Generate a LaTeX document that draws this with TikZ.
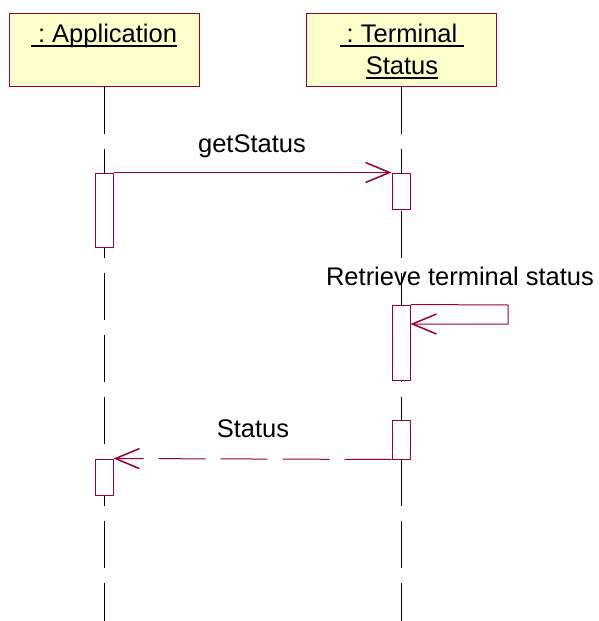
\documentclass[tikz,border=0pt]{standalone}
\usepackage{fontspec}
\setmainfont{Liberation Sans}
\usepackage{tikz}
\usetikzlibrary{arrows.meta, positioning}
\definecolor{umlred}{HTML}{990033}
\definecolor{umlyellow}{HTML}{FFFFCC}
\newsavebox{\ulbox}
\newcommand{\uln}[1]{\sbox{\ulbox}{#1}\rlap{\rule[-4.5pt]{\wd\ulbox}{1.3pt}}\usebox{\ulbox}}

\begin{document}
\begin{tikzpicture}[x=1pt, y=-1pt,
	every node/.style={font=\fontsize{25.5}{32}\selectfont, inner sep=0pt},
	objbox/.style={draw=umlred, fill=umlyellow, line width=1pt, minimum width=190pt, minimum height=73pt},
	actbox/.style={draw=umlred, fill=white, line width=1pt, minimum width=18pt},
	lifeline/.style={line width=0.8pt, dash pattern=on 47pt off 15pt},
	msg/.style={draw=umlred, line width=1pt, -{Straight Barb[length=24pt, width=20pt, line width=1.5pt]}},
	reply/.style={msg, dash pattern=on 47pt off 15pt}]
				\useasboundingbox (0,0) rectangle (599,621);
				
				% objects
				\node [objbox] (app) at (104,49.5) {};
				\node [objbox] (term) at (401,49.5) {};
				\node [anchor=base] (apptxt) at (104,42) {\uln{\ :\ Application}};
				\node [anchor=base] (termtxt) at (402,42) {\uln{\ :\ Terminal\ }};
				\node [anchor=base] (termtxtb) at (402,74) {\uln{Status}};
				
				% lifelines
				\coordinate (append) at (104,621);
				\coordinate (termend) at (401,621);
				\draw [lifeline] (app.south) -- (append);
				\draw [lifeline] (term.south) -- (termend);
				
				% activations
				\node [actbox, minimum height=74pt] (appact) at (104,210) {};
				\node [actbox, minimum height=36pt] (termact) at (401,191) {};
				\node [actbox, minimum height=75pt] (retract) at (401,342.5) {};
				\node [actbox, minimum height=39pt] (sendact) at (401,439.5) {};
				\node [actbox, minimum height=36pt] (recvact) at (104,477) {};
				
				% messages
				\draw [msg] (appact.north east) -- (termact.north west);
				\node [anchor=base] (getlbl) at (252,152) {getStatus};
				
				\coordinate (loopa) at (508,305);
				\coordinate (loopb) at (508,324);
				\draw [msg] (retract.north east) -- (loopa) -- (loopb) -- (retract.east |- loopb);
				\node [anchor=base] (retrlbl) at (460,285) {Retrieve terminal status};
				
				\draw [reply] (sendact.south west) -- (recvact.north east);
				\node [anchor=base] (statuslbl) at (253,437) {Status};
\end{tikzpicture}
\end{document}
